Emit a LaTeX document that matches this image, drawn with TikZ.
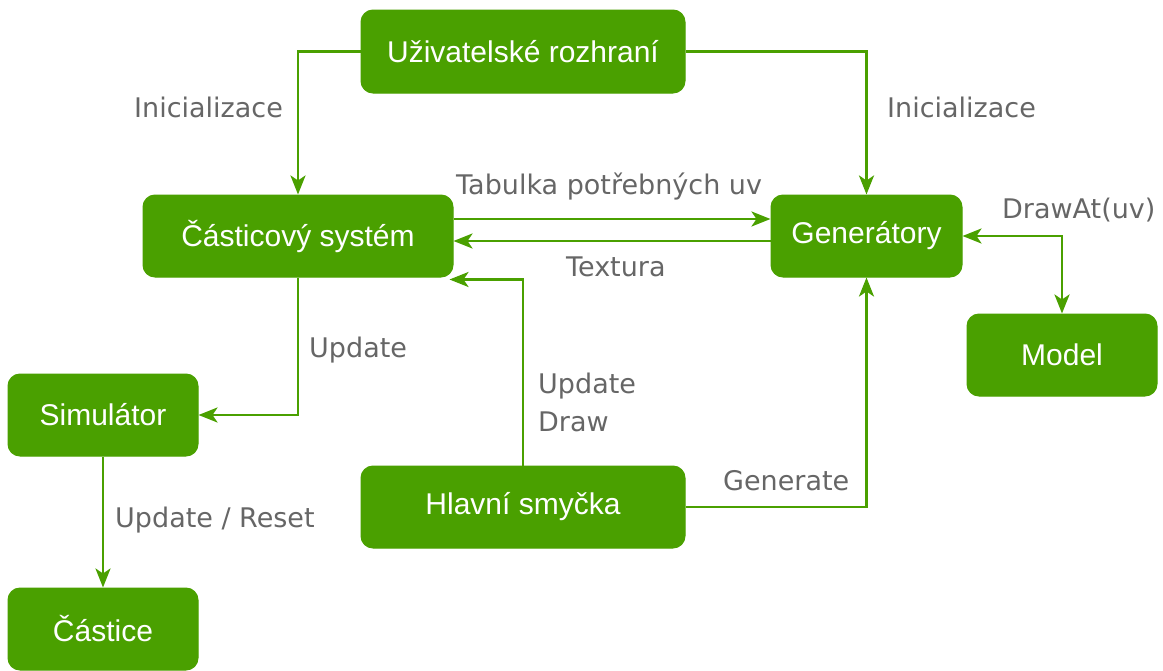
\documentclass[tikz,border=0pt]{standalone}
\usepackage{fontspec}
\setmainfont{Liberation Sans}
\newfontfamily\lblfont{DejaVu Sans}
\usetikzlibrary{arrows.meta}
\definecolor{boxgreen}{RGB}{74,160,0}
\definecolor{lblgray}{RGB}{102,102,102}

\begin{document}
\begin{tikzpicture}[x=1pt,y=-1pt,
  box/.style={draw=boxgreen, fill=boxgreen, rounded corners=12pt, text=white,
    font=\fontsize{30}{36}\selectfont, inner sep=0pt, line width=1pt},
  arr/.style={draw=boxgreen, line width=2.8pt,
    -{Stealth[length=19pt,width=15pt,inset=5pt]}},
  dblarr/.style={draw=boxgreen, line width=2.8pt,
    {Stealth[length=19pt,width=15pt,inset=5pt]}-{Stealth[length=19pt,width=15pt,inset=5pt]}},
  lbl/.style={text=lblgray, font=\lblfont\fontsize{27}{37}\selectfont, inner sep=0pt, anchor=base west}
]
\useasboundingbox (0,0) rectangle (1163,670);

% components
\node[box, minimum width=324pt, minimum height=83pt] (ui)   at (523,51.5)  {Uživatelské rozhraní};
\node[box, minimum width=310pt, minimum height=82pt] (cs)   at (298,236)   {Částicový systém};
\node[box, minimum width=191pt, minimum height=82pt] (gen)  at (866.5,236) {Generátory};
\node[box, minimum width=190pt, minimum height=82pt] (model) at (1062,355) {Model};
\node[box, minimum width=190pt, minimum height=82pt] (sim)  at (103,415)   {Simulátor};
\node[box, minimum width=324pt, minimum height=82pt] (hs)   at (523,507)   {Hlavní smyčka};
\node[box, minimum width=190pt, minimum height=82pt] (cast) at (103,629)   {Částice};

% connections
\draw[arr] (ui.west) -| (cs.north);
\draw[arr] (ui.east) -| (gen.north);
\draw[arr] ([yshift=17pt]cs.east) -- ([yshift=17pt]gen.west);
\draw[arr] ([yshift=-5pt]gen.west) -- ([yshift=-5pt]cs.east);
\draw[dblarr] (gen.east) -| (model.north);
\draw[arr] (cs.south) |- (sim.east);
\draw[arr] (sim.south) -- (cast.north);
\draw[arr] (hs.north) |- ([xshift=-4pt,yshift=-2pt]cs.south east);
\draw[arr] (hs.east) -| (gen.south);

% labels
\node[lbl] (l1) at (134,117) {Inicializace};
\node[lbl] (l2) at (887,117) {Inicializace};
\node[lbl] (l3) at (456,194) {Tabulka potřebných uv};
\node[lbl] (l4) at (566,276) {Textura};
\node[lbl] (l5) at (1002,218) {DrawAt(uv)};
\node[lbl] (l6) at (309,357) {Update};
\node[lbl] (l7) at (538,393) {Update};
\node[lbl] (l8) at (538,431) {Draw};
\node[lbl] (l9) at (723,490) {Generate};
\node[lbl] (l10) at (115,527) {Update / Reset};
\end{tikzpicture}
\end{document}
